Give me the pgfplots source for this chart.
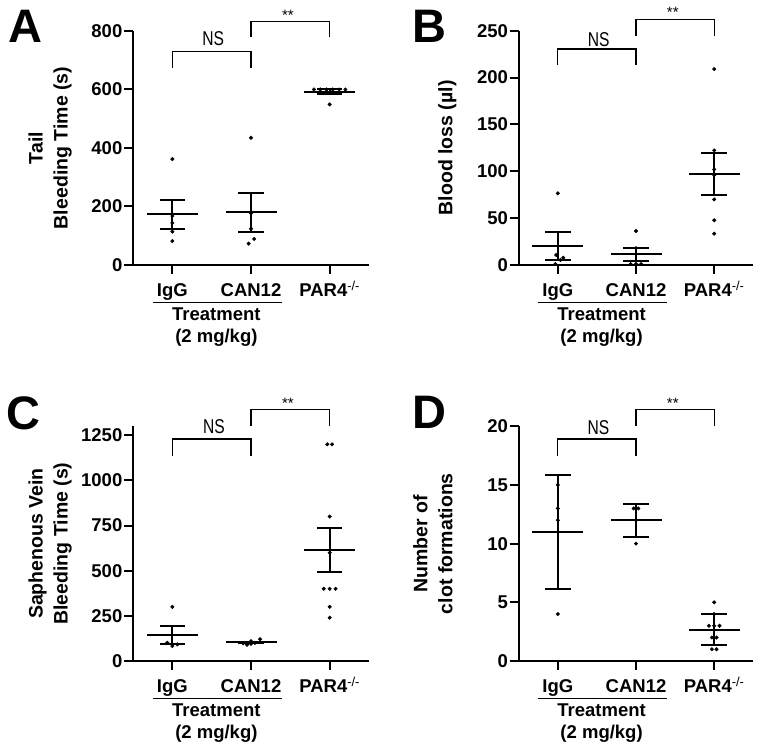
\documentclass[border=0pt]{standalone}
\usepackage{fontspec}
\setmainfont{Liberation Sans}
\usepackage{graphicx}
\usepackage{pgfplots}
\pgfplotsset{compat=1.18}
\newcommand{\lblfont}{\fontsize{18.5}{22}\selectfont\bfseries}
\newcommand{\ylfont}{\fontsize{19.5}{25}\selectfont\bfseries}
\pgfplotsset{
  panel/.style={
    scale only axis, axis lines*=left, clip=false,
    xmin=-0.5, xmax=2.5, ymin=0,
    xtick={0,1,2}, xticklabels={IgG,CAN12,PAR4\textsuperscript{\normalfont -/-}},
    tick align=outside, major tick length=9pt,
    axis line style={line width=2pt},
    every tick/.style={line width=2pt, black},
    tick label style={font=\lblfont},
    /pgf/number format/assume math mode=true,
    /pgf/number format/1000 sep={},
    xticklabel style={anchor=base, yshift=-22.7pt},
    yticklabel style={inner sep=1.5pt},
    ylabel style={font=\ylfont, align=center, anchor=south},
  },
  dots/.style={only marks, mark=*, mark size=1.8pt, black},
  meanbar/.style={black, only marks, mark=-, mark size=25.5pt, mark options={line width=2pt},
    error bars/.cd, y dir=both, y explicit, error mark=|,
    error bar style={line width=2pt, black},
    error mark options={line width=2pt, mark size=12.8pt, black}},
  bracket/.style={black, line width=1.3pt},
}
\newcommand{\NS}{\fontsize{20}{20}\selectfont\scalebox{0.78}[1]{NS}}
\newcommand{\stars}{\fontsize{15}{15}\selectfont **}
\newcommand{\treat}{%
  \draw[line width=1.3pt] ([yshift=-37.7pt]axis cs:-0.25,0) -- ([yshift=-37.7pt]axis cs:1.39,0);
  \node[anchor=base, font=\lblfont, inner sep=0] at ([yshift=-55.7pt]axis cs:0.56,0) {Treatment};
  \node[anchor=base, font=\lblfont, inner sep=0] at ([yshift=-77.3pt]axis cs:0.56,0) {(2 mg/kg)};
}
\begin{document}
\begin{tikzpicture}
\useasboundingbox (0,0) rectangle (762pt,754pt);
% ---------------- A
\begin{axis}[panel, at={(133pt,489pt)}, anchor=south west, width=236pt, height=234pt,
  ymax=800, ytick={0,200,400,600,800},
  ylabel={Tail\\Bleeding Time (s)},
  ylabel style={at={(axis description cs:-0.244,0.5)}}]
\addplot[dots] coordinates {(0,362) (0,167.5) (0,143.6) (0,114) (0,82)
  (1,435) (1,177) (1,124) (1.04,89) (0.97,73)
  (1.8,600) (1.88,600) (1.96,600) (2.04,600) (2.12,600) (2.2,600) (2,549)};
\addplot[meanbar] coordinates {(0,173.8) +- (0,49.2) (1,179.6) +- (0,66) (2,592.7) +- (0,7.3)};
\addplot[bracket] coordinates {(0,675) (0,729) (1,729) (1,675)};
\addplot[bracket] coordinates {(1,780.6) (1,832) (2,832) (2,780.6)};
\node at (axis cs:0.52,773) {\NS};
\node[anchor=north, inner sep=0] at (axis cs:1.47,872) {\stars};
\treat
\end{axis}
% ---------------- B
\begin{axis}[panel, at={(518.7pt,489pt)}, anchor=south west, width=234.6pt, height=234.3pt,
  ymax=250, ytick={0,50,100,150,200,250},
  ylabel={Blood loss (µl)},
  ylabel style={at={(axis description cs:-0.25,0.5)}}]
\addplot[dots] coordinates {(0,76.5) (-0.02,10.7) (0.07,7.8) (0.035,5.3) (-0.03,1)
  (1,36.3) (1,18) (0.93,1) (1,1) (1.065,1)
  (2,209) (2,122.3) (2,102) (2,96) (2,70) (2,47.7) (2,33.4)};
\addplot[meanbar] coordinates {(0,20.2) +- (0,14.5) (1,11.4) +- (0,7.0) (2,97.2) +- (0,22)};
\addplot[bracket] coordinates {(0,213.4) (0,230.5) (1,230.5) (1,213.4)};
\addplot[bracket] coordinates {(1,244.7) (1,262.2) (2,262.2) (2,244.7)};
\node at (axis cs:0.524,241) {\NS};
\node[anchor=north, inner sep=0] at (axis cs:1.47,275) {\stars};
\treat
\end{axis}
% ---------------- C
\begin{axis}[panel, at={(133pt,93pt)}, anchor=south west, width=236pt, height=234.7pt,
  ymax=1300, ytick={0,250,500,750,1000,1250},
  ylabel={Saphenous Vein\\Bleeding Time (s)},
  ylabel style={at={(axis description cs:-0.244,0.5)}}]
\addplot[dots] coordinates {(0,300) (-0.064,101) (0,83) (0.064,92)
  (0.9,98) (0.95,90) (1,95) (1.05,100) (1.0,110) (1.115,121)
  (1.97,1200) (2.03,1200) (2,800) (2,600) (1.925,400) (2,400) (2.075,400) (2,300) (2,240)};
\addplot[meanbar] coordinates {(0,144) +- (0,51) (1,103) +- (0,4.4) (2,615.6) +- (0,123.5)};
\addplot[bracket] coordinates {(0,1137) (0,1230) (1,1230) (1,1137)};
\addplot[bracket] coordinates {(1,1302) (1,1394) (2,1394) (2,1302)};
\node at (axis cs:0.53,1296) {\NS};
\node[anchor=north, inner sep=0] at (axis cs:1.47,1459) {\stars};
\treat
\end{axis}
% ---------------- D
\begin{axis}[panel, at={(518.7pt,93pt)}, anchor=south west, width=234.6pt, height=234.7pt,
  ymax=20, ytick={0,5,10,15,20},
  ylabel={Number of\\clot formations},
  ylabel style={at={(axis description cs:-0.267,0.5)}}]
\addplot[dots] coordinates {(0,15) (0,13) (0,12) (0,4)
  (0.97,13) (1.03,13) (1,12) (1,10)
  (2,5) (2,4) (1.932,3) (2,3) (2.068,3) (1.97,2) (2.03,2) (1.97,1) (2.03,1)};
\addplot[meanbar] coordinates {(0,11) +- (0,4.83) (1,12) +- (0,1.42) (2,2.67) +- (0,1.32)};
\addplot[bracket] coordinates {(0,17.49) (0,18.92) (1,18.92) (1,17.49)};
\addplot[bracket] coordinates {(1,20.02) (1,21.45) (2,21.45) (2,20.02)};
\node at (axis cs:0.52,19.88) {\NS};
\node[anchor=north, inner sep=0] at (axis cs:1.47,22.44) {\stars};
\treat
\end{axis}
% panel letters
\node[anchor=north west, inner sep=0, font=\fontsize{47}{47}\selectfont\bfseries] at (8pt,744pt) {A};
\node[anchor=north west, inner sep=0, font=\fontsize{47}{47}\selectfont\bfseries] at (412.6pt,744pt) {B};
\node[anchor=north west, inner sep=0, font=\fontsize{47}{47}\selectfont\bfseries] at (6pt,358pt) {C};
\node[anchor=north west, inner sep=0, font=\fontsize{47}{47}\selectfont\bfseries] at (412.4pt,358pt) {D};
\end{tikzpicture}
\end{document}
